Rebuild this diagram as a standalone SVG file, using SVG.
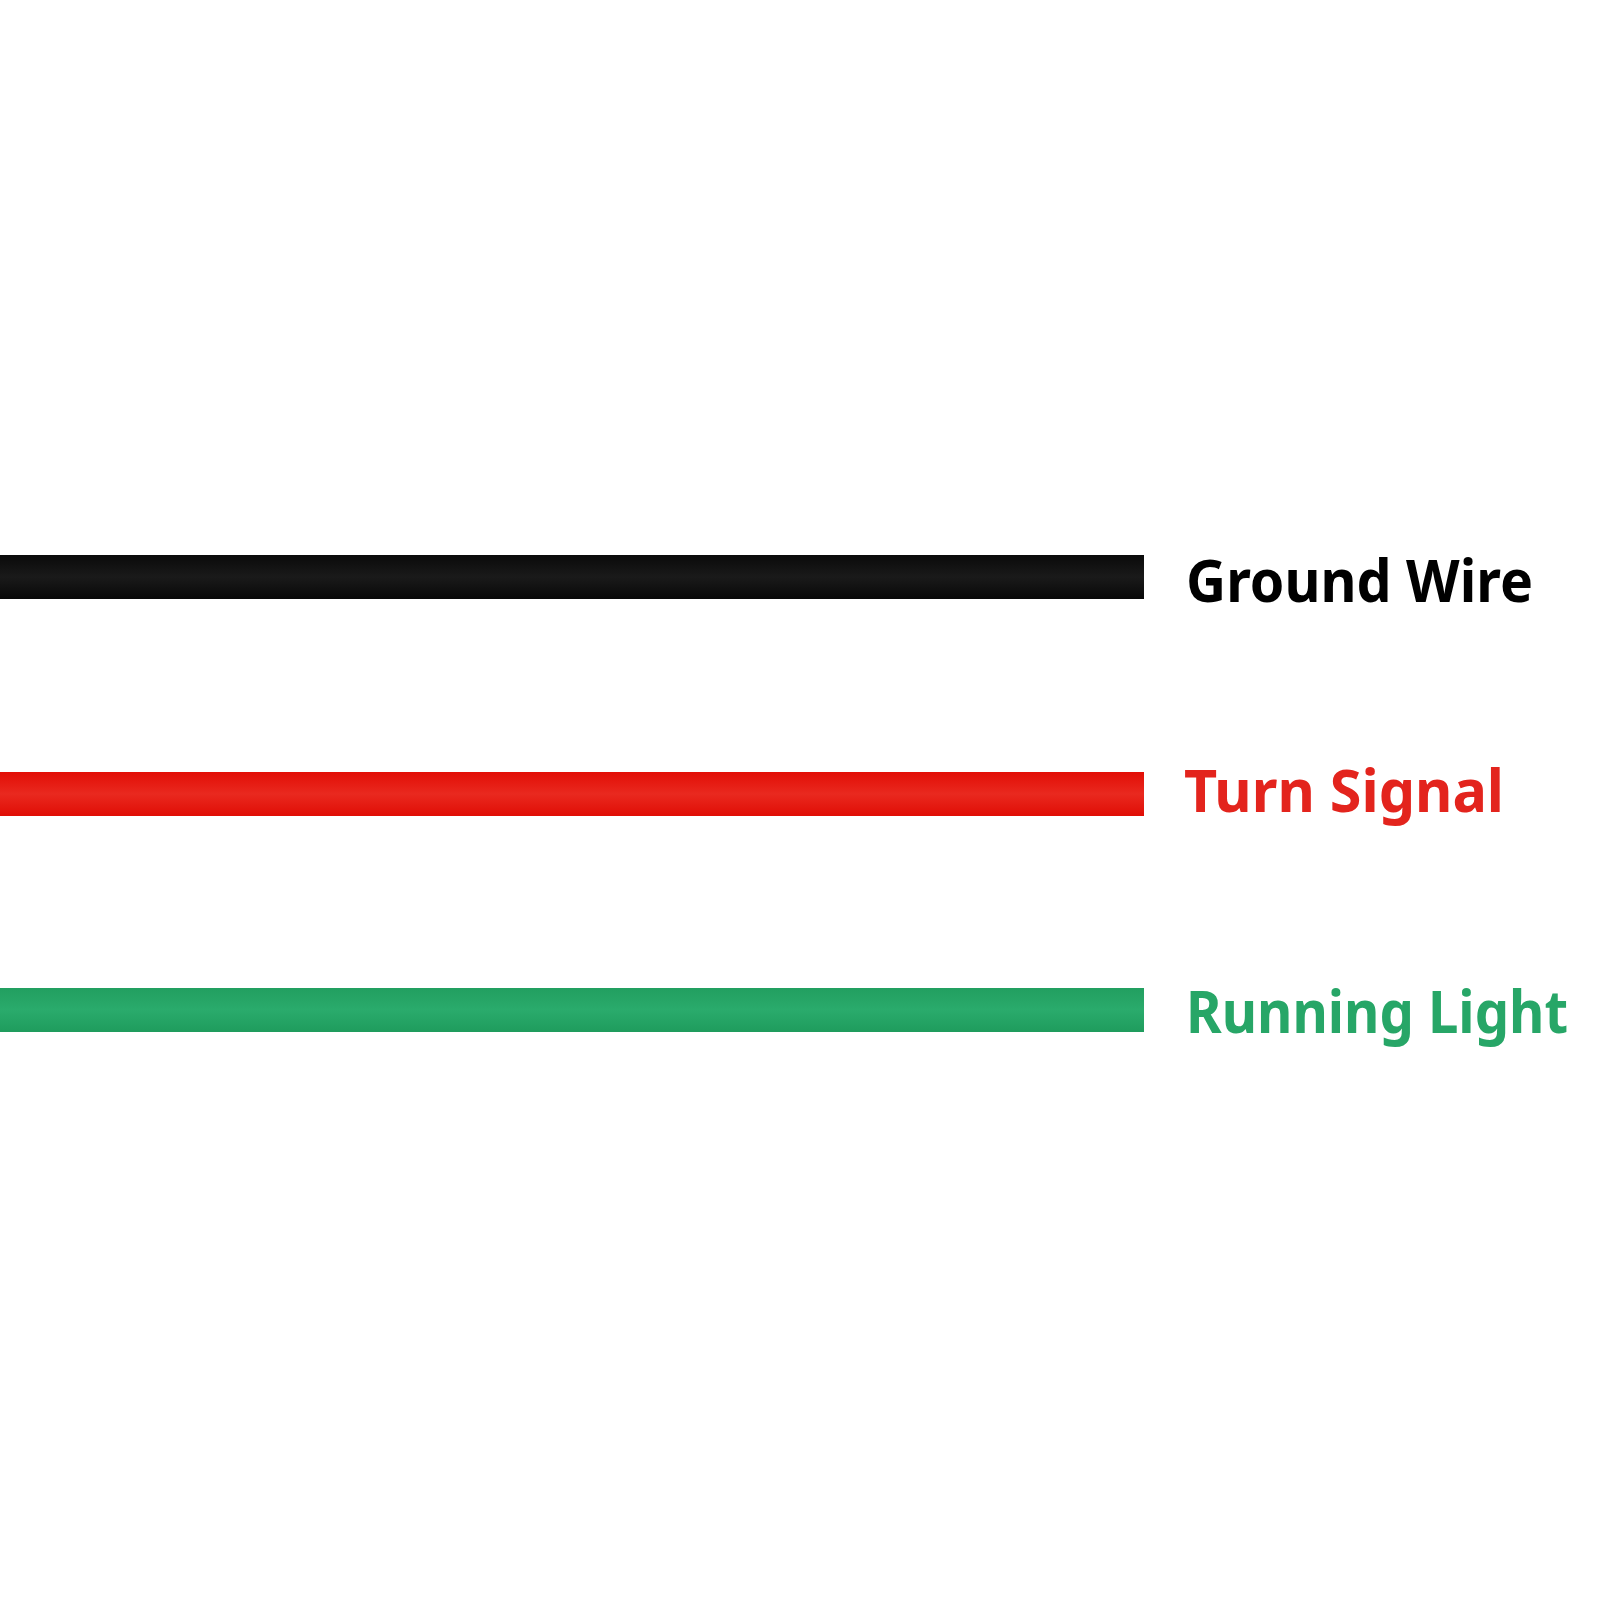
<svg xmlns="http://www.w3.org/2000/svg" width="1600" height="1600" viewBox="0 0 1600 1600">
<defs>
<linearGradient id="gBlack" x1="0" y1="0" x2="0" y2="1">
<stop offset="0" stop-color="#0a0a0a"/><stop offset="0.5" stop-color="#1a1a1a"/><stop offset="1" stop-color="#080808"/>
</linearGradient>
<linearGradient id="gRed" x1="0" y1="0" x2="0" y2="1">
<stop offset="0" stop-color="#e20e06"/><stop offset="0.5" stop-color="#e9291f"/><stop offset="1" stop-color="#e00d05"/>
</linearGradient>
<linearGradient id="gGreen" x1="0" y1="0" x2="0" y2="1">
<stop offset="0" stop-color="#229f60"/><stop offset="0.5" stop-color="#2aab6c"/><stop offset="1" stop-color="#1f9c5d"/>
</linearGradient>
</defs>
<style>
.lbl{font-family:"Noto Sans","Open Sans","Liberation Sans",sans-serif;font-weight:700;font-size:60px}
</style>
<rect width="1600" height="1600" fill="#ffffff"/>
<g id="ground">
<rect x="0" y="555" width="1144" height="44" fill="url(#gBlack)"/>
<text class="lbl" x="1186" y="602" fill="#000000" textLength="347" lengthAdjust="spacingAndGlyphs">Ground Wire</text>
</g>
<g id="turn">
<rect x="0" y="772" width="1144" height="44" fill="url(#gRed)"/>
<text class="lbl" x="1184" y="812" fill="#e3241d" textLength="320" lengthAdjust="spacingAndGlyphs">Turn Signal</text>
</g>
<g id="running">
<rect x="0" y="988" width="1144" height="44" fill="url(#gGreen)"/>
<text class="lbl" x="1186" y="1033" fill="#27a667" textLength="382" lengthAdjust="spacingAndGlyphs">Running Light</text>
</g>
</svg>
